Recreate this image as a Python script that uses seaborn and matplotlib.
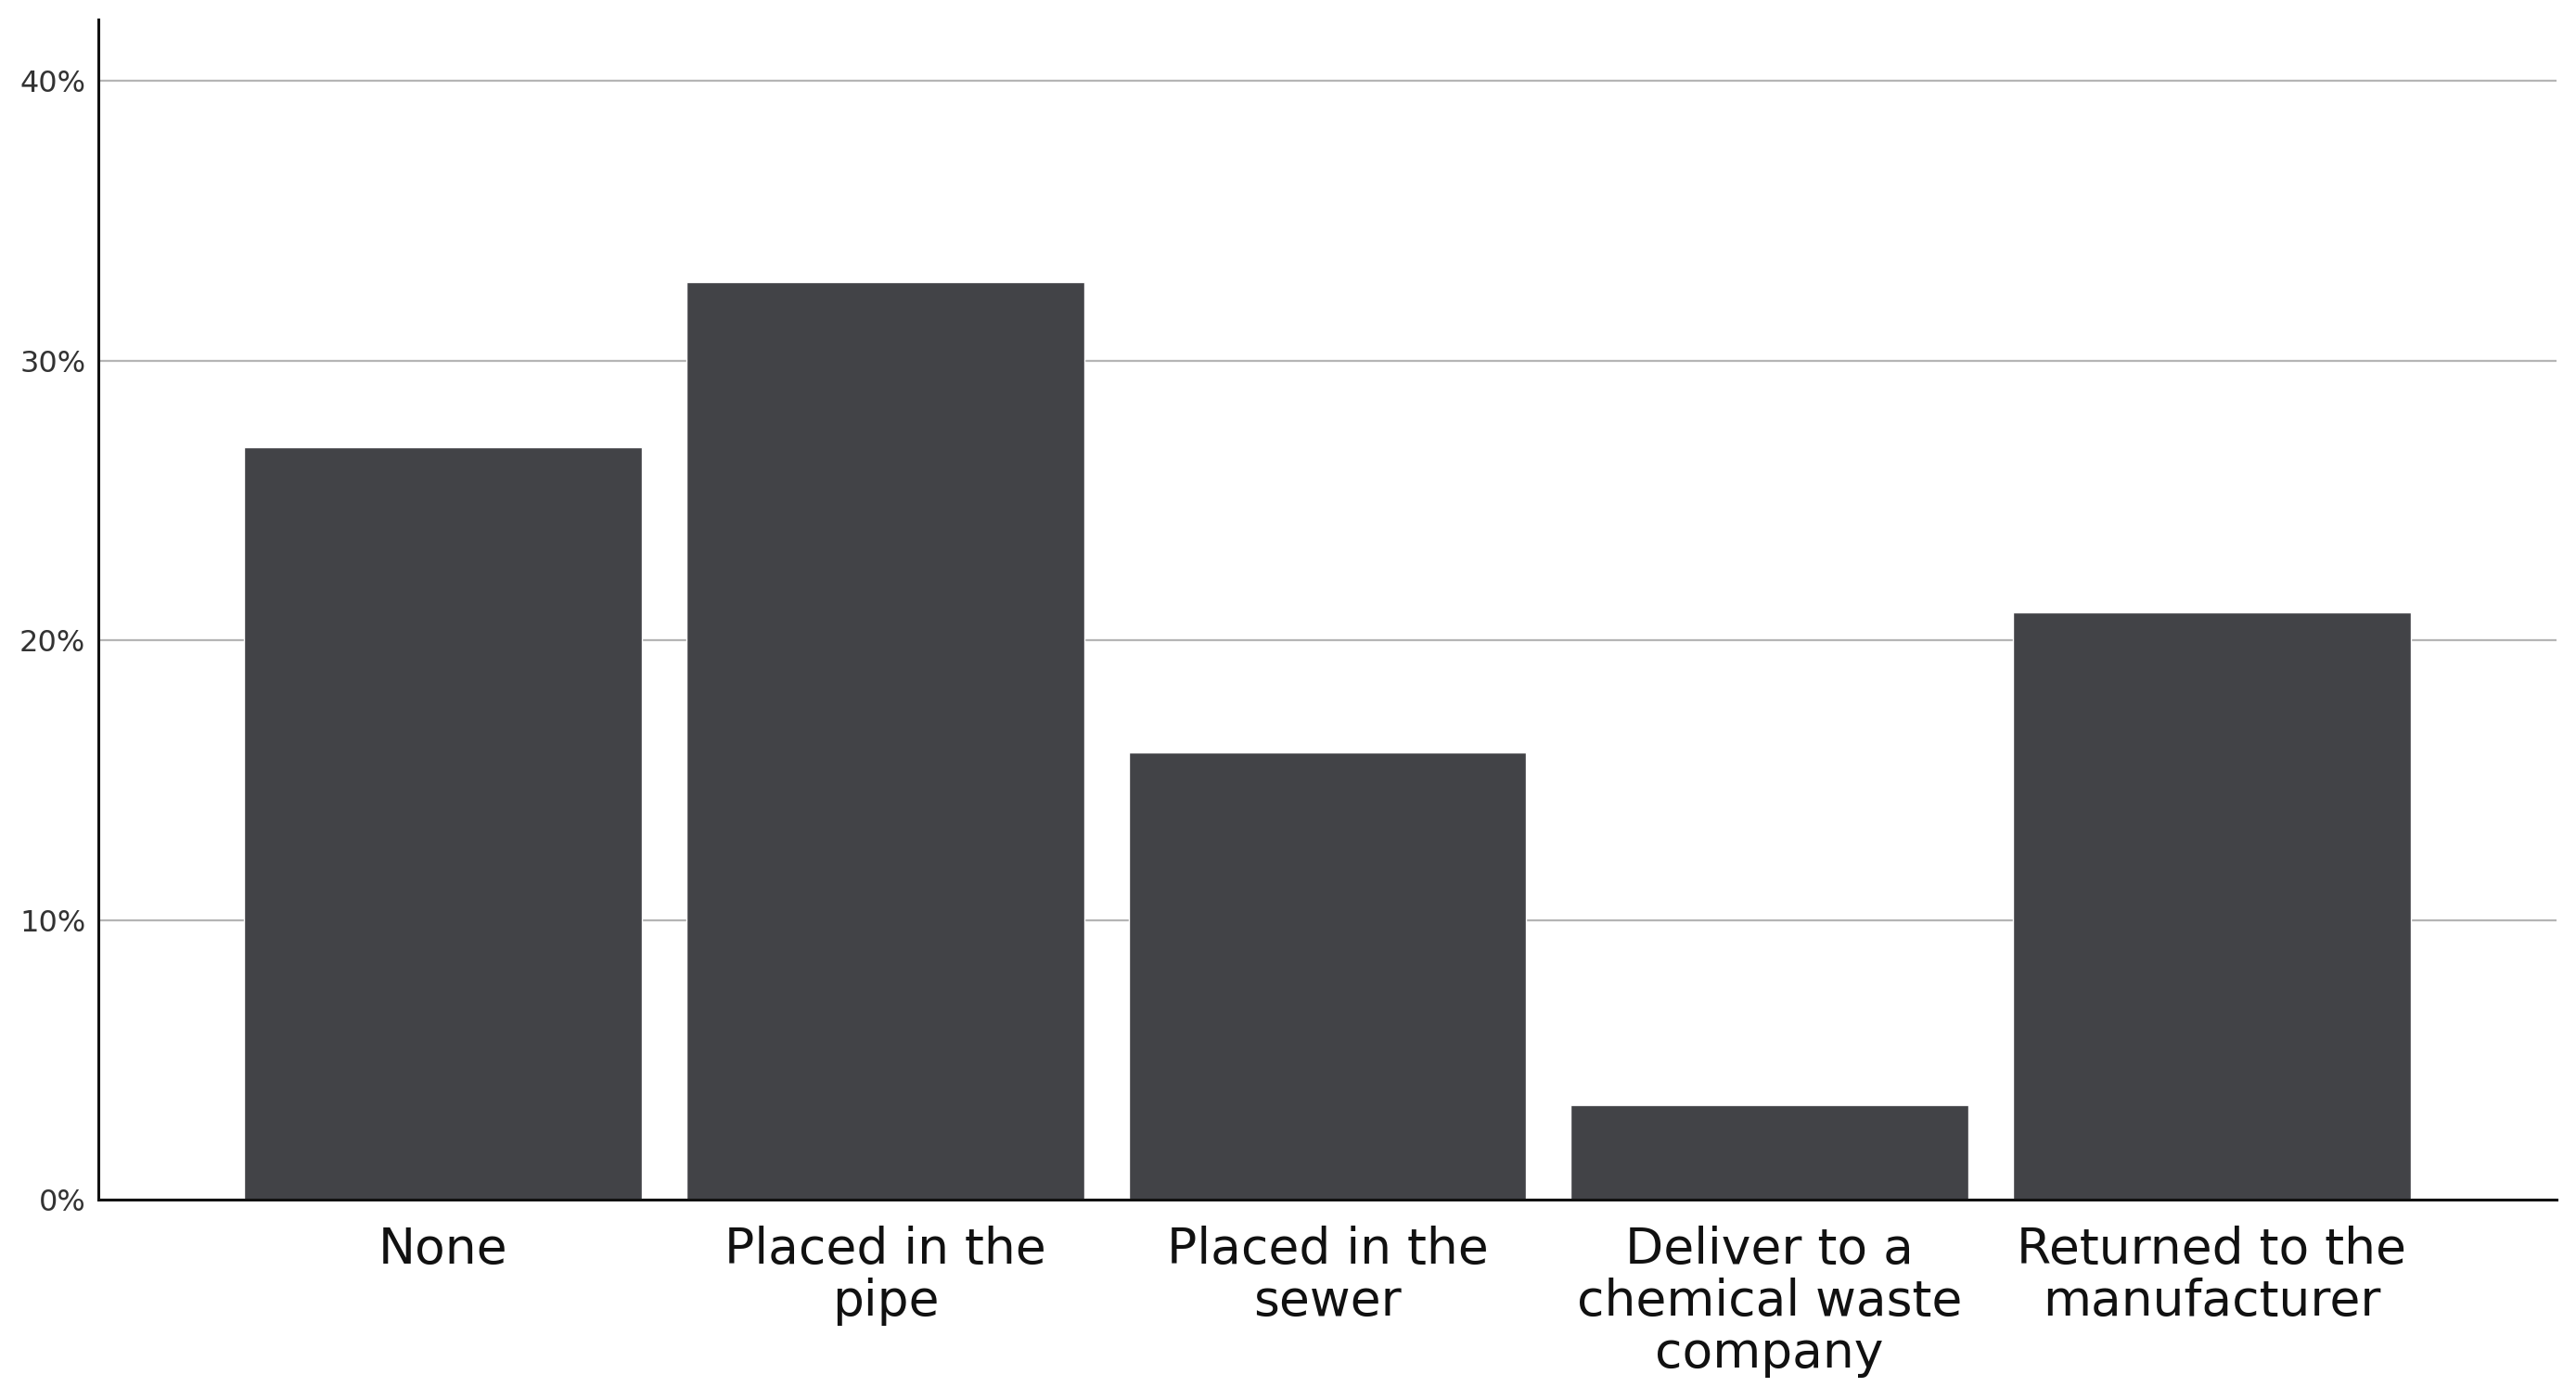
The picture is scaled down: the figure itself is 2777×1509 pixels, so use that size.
import matplotlib
matplotlib.use("Agg")
import matplotlib.pyplot as plt
import seaborn as sns
import pandas as pd

categories = ["None", "Placed in the\npipe", "Placed in the\nsewer",
              "Deliver to a\nchemical waste\ncompany", "Returned to the\nmanufacturer"]
percent = [26.9, 32.8, 16.0, 3.4, 21.0]
y_ticks = [0, 10, 20, 30, 40]
y_tick_labels = ["0%", "10%", "20%", "30%", "40%"]

df = pd.DataFrame({"category": categories, "percent": percent})

sns.set_theme(style="white")
plt.rcParams['font.family'] = ['DejaVu Sans']

fig = plt.figure(figsize=(27.77, 15.09), dpi=100)
ax = fig.add_axes([0.0382, 0.1431, 0.9542, 0.8430])

sns.barplot(data=df, x="category", y="percent", color="#424347",
            width=0.9, saturation=1, ax=ax, zorder=3)

ax.set_xlim(-0.78, 4.78)
ax.set_ylim(0, 42.2)
ax.set_yticks(y_ticks)
ax.set_yticklabels(y_tick_labels)
ax.yaxis.grid(True, color="#b5b5b5", linewidth=1.6, zorder=0)
ax.xaxis.grid(False)
ax.set_axisbelow(True)

for s in ["top", "right"]:
    ax.spines[s].set_visible(False)
for s in ["left", "bottom"]:
    ax.spines[s].set_color("#111111")
    ax.spines[s].set_linewidth(2.2)
    ax.spines[s].set_zorder(4)

ax.tick_params(axis="y", length=0, pad=10, labelsize=23, labelcolor="#333333")
ax.tick_params(axis="x", length=0, pad=20, labelsize=38.5, labelcolor="#111111")
for lbl in ax.get_xticklabels():
    lbl.set_linespacing(1.1)

ax.set_xlabel("")
ax.set_ylabel("")

fig.savefig("out.png", dpi=100, facecolor="white")
